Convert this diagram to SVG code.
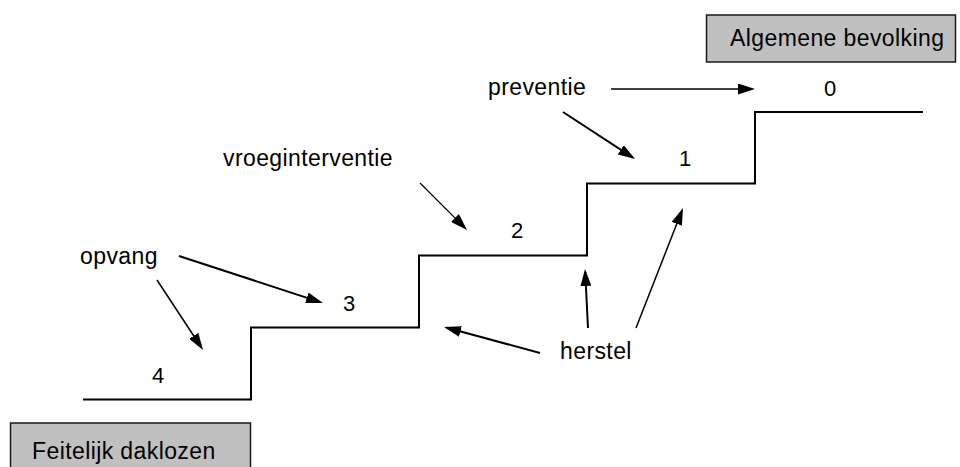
<svg xmlns="http://www.w3.org/2000/svg" width="960" height="467" viewBox="0 0 960 467">
<style>
text{font-family:"Liberation Sans",Arial,sans-serif;font-size:23px;fill:#000;letter-spacing:0.4px}
.num{letter-spacing:0;font-size:22px}
.box{fill:#c0c0c0;stroke:#1a1a1a;stroke-width:1.5}
.stair{fill:none;stroke:#000;stroke-width:2}
.arr{stroke:#000;fill:none;marker-end:url(#ah)}
</style>
<defs>
<marker id="ah" markerUnits="userSpaceOnUse" markerWidth="17" markerHeight="11" refX="14" refY="5.5" orient="auto" viewBox="0 0 17 11">
<path d="M0,0 L17,5.5 L0,11 z" fill="#000"/>
</marker>
</defs>
<rect width="960" height="467" fill="#fff"/>
<g id="staircase">
<path class="stair" d="M83,399.5 H251 V327.5 H419 V255.5 H587 V183.5 H755 V112 H923"/>
</g>
<g id="algemene-bevolking">
<rect class="box" x="706.5" y="15" width="249" height="47"/>
<text x="730" y="46">Algemene bevolking</text>
</g>
<g id="feitelijk-daklozen">
<rect class="box" x="10.5" y="423" width="240" height="50"/>
<text x="32" y="459">Feitelijk daklozen</text>
</g>
<g id="step0"><text class="num" x="830" y="96" text-anchor="middle">0</text></g>
<g id="step1"><text class="num" x="685" y="166" text-anchor="middle">1</text></g>
<g id="step2"><text class="num" x="517" y="238" text-anchor="middle">2</text></g>
<g id="step3"><text class="num" x="349" y="311" text-anchor="middle">3</text></g>
<g id="step4"><text class="num" x="158" y="383" text-anchor="middle">4</text></g>
<g id="preventie"><text x="488" y="95">preventie</text></g>
<g id="vroeginterventie"><text x="223" y="166">vroeginterventie</text></g>
<g id="opvang"><text x="80" y="264">opvang</text></g>
<g id="herstel"><text x="560" y="359">herstel</text></g>
<g id="connectors">
<line class="arr" stroke-width="1.5" x1="611" y1="89" x2="752" y2="89"/>
<line class="arr" stroke-width="2" x1="563" y1="112" x2="632.5" y2="157.4"/>
<line class="arr" stroke-width="1.2" x1="420" y1="183" x2="464.9" y2="227.9"/>
<line class="arr" stroke-width="2" x1="179" y1="256" x2="320.1" y2="302.1"/>
<line class="arr" stroke-width="1.5" x1="157" y1="280" x2="201.4" y2="347.5"/>
<line class="arr" stroke-width="2" x1="540" y1="353" x2="446.9" y2="327.8"/>
<line class="arr" stroke-width="2" x1="588" y1="328" x2="585.2" y2="272"/>
<line class="arr" stroke-width="1.5" x1="636" y1="328" x2="681.9" y2="210.8"/>
</g>
</svg>
